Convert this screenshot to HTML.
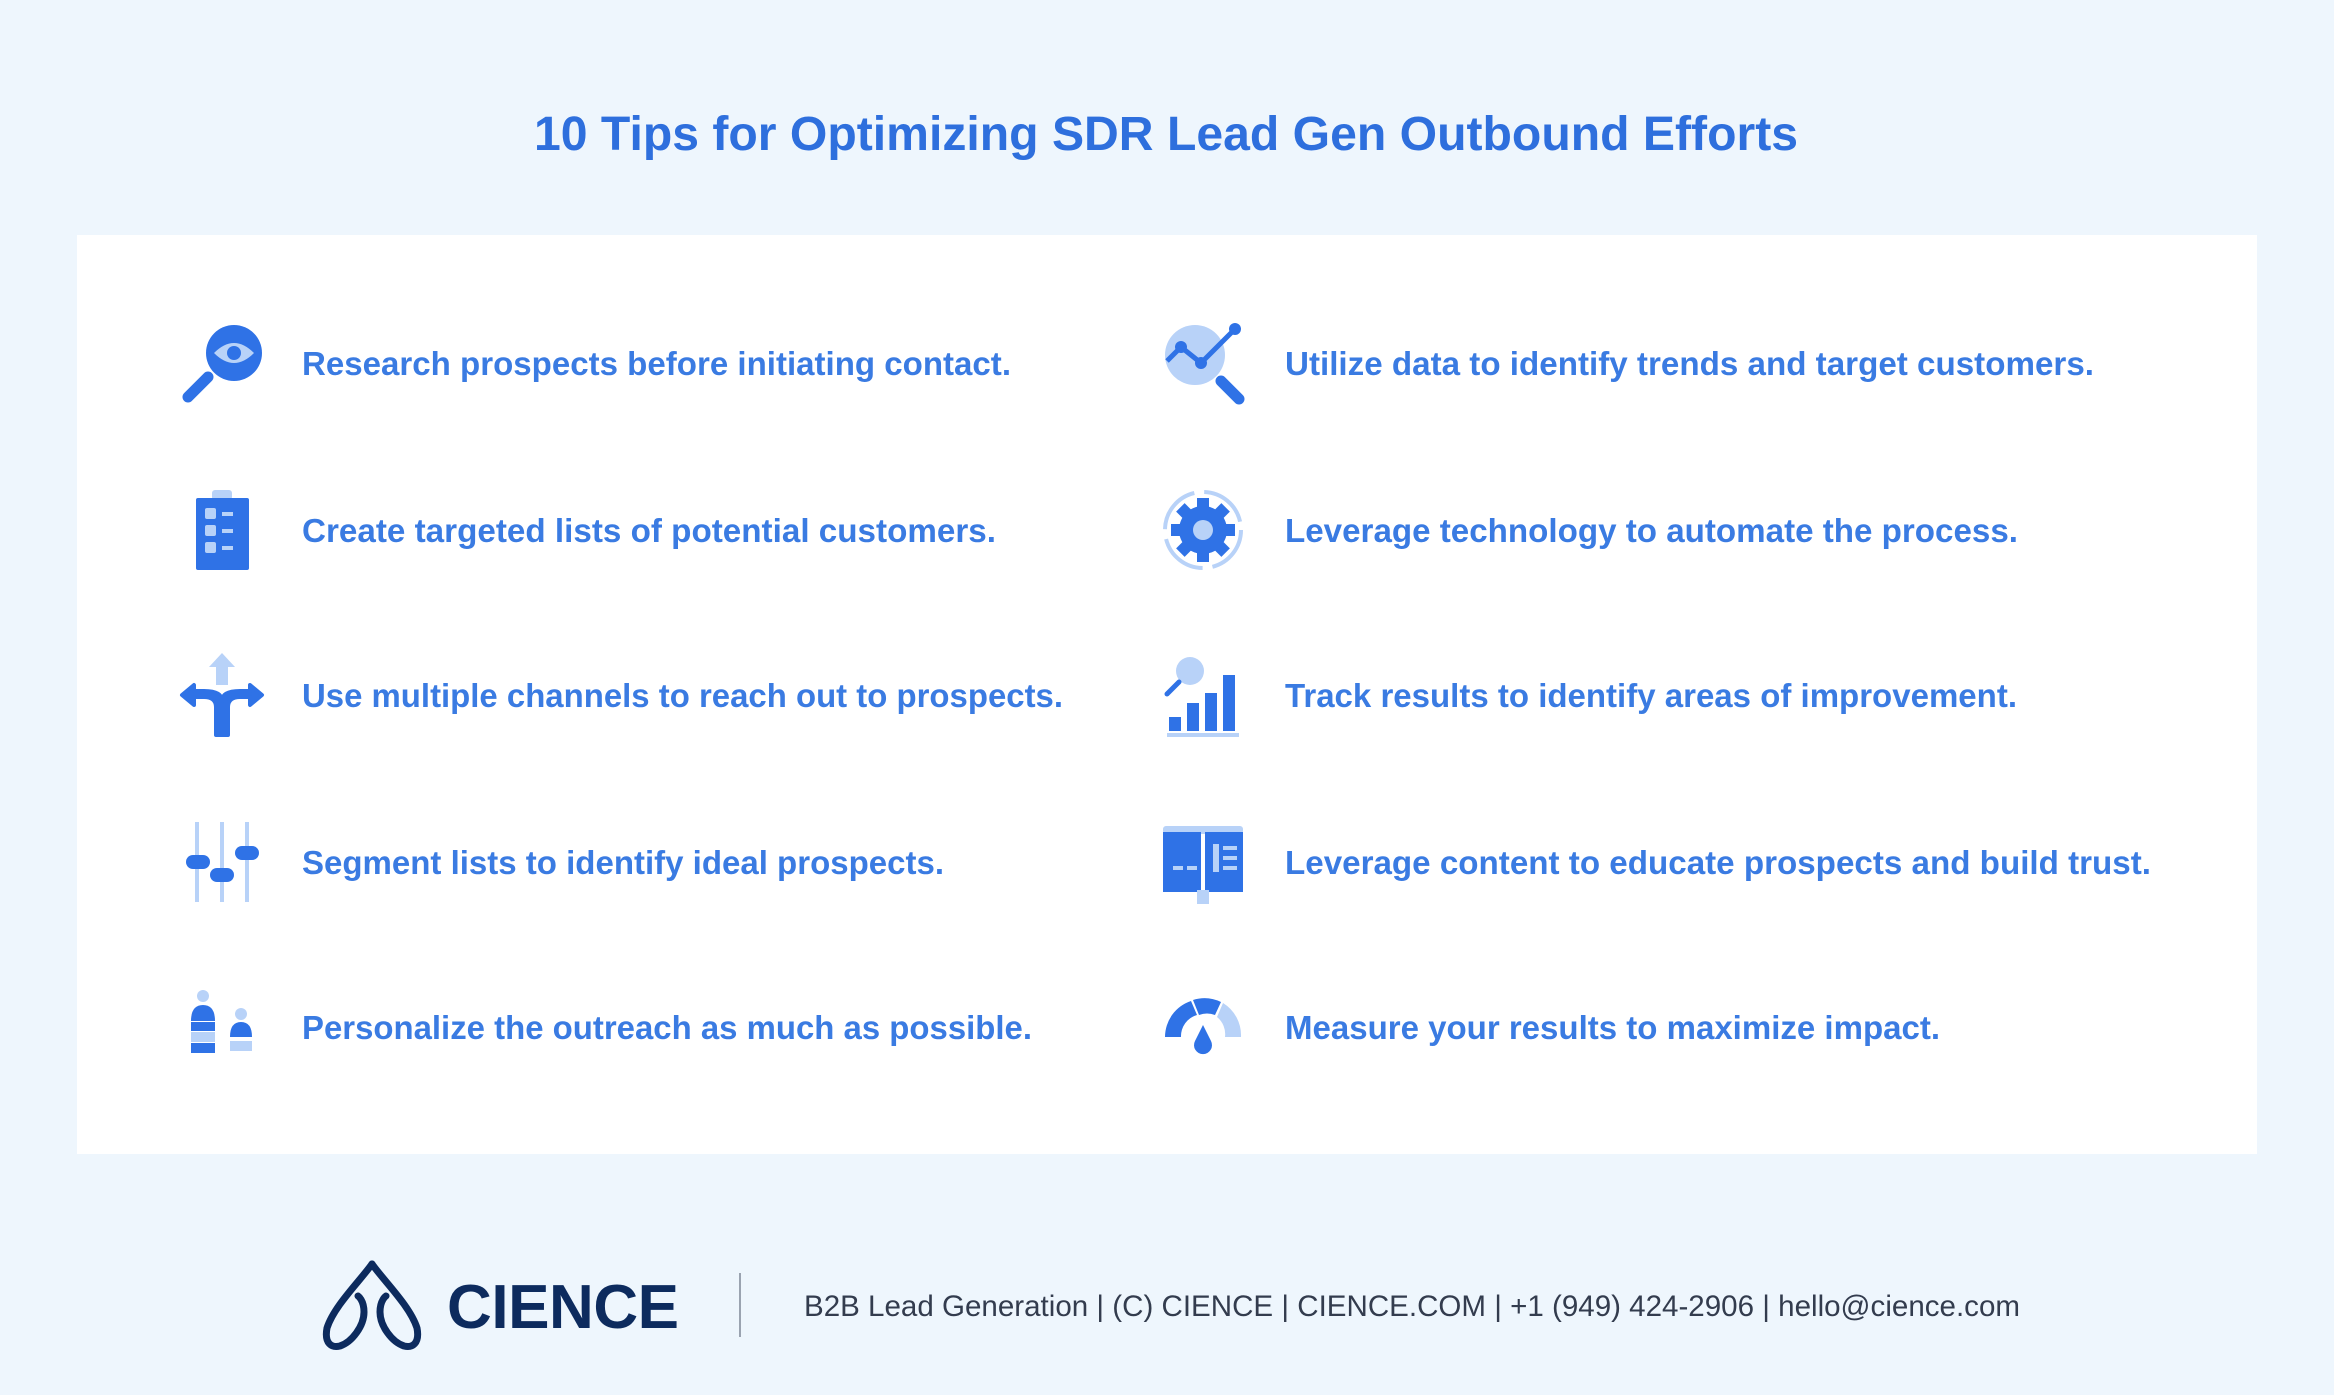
<!DOCTYPE html>
<html><head><meta charset="utf-8"><style>
html,body{margin:0;padding:0;background:#eef6fd;}
svg{display:block}
</style></head><body>
<svg width="2334" height="1395" viewBox="0 0 2334 1395" xmlns="http://www.w3.org/2000/svg" font-family="'Liberation Sans', sans-serif">
<rect width="2334" height="1395" fill="#eef6fd"/>
<text x="534" y="150" font-size="48" font-weight="bold" fill="#2e6fdd" textLength="1264" lengthAdjust="spacingAndGlyphs">10 Tips for Optimizing SDR Lead Gen Outbound Efforts</text>
<rect x="77" y="235" width="2180" height="919" fill="#ffffff"/>

<g font-size="33" font-weight="bold" fill="#3a7be2" lengthAdjust="spacingAndGlyphs">
<text x="302" y="375" textLength="709" lengthAdjust="spacingAndGlyphs">Research prospects before initiating contact.</text>
<text x="302" y="542" textLength="694" lengthAdjust="spacingAndGlyphs">Create targeted lists of potential customers.</text>
<text x="302" y="707" textLength="761" lengthAdjust="spacingAndGlyphs">Use multiple channels to reach out to prospects.</text>
<text x="302" y="874" textLength="642" lengthAdjust="spacingAndGlyphs">Segment lists to identify ideal prospects.</text>
<text x="302" y="1039" textLength="730" lengthAdjust="spacingAndGlyphs">Personalize the outreach as much as possible.</text>
<text x="1285" y="375" textLength="809" lengthAdjust="spacingAndGlyphs">Utilize data to identify trends and target customers.</text>
<text x="1285" y="542" textLength="733" lengthAdjust="spacingAndGlyphs">Leverage technology to automate the process.</text>
<text x="1285" y="707" textLength="732" lengthAdjust="spacingAndGlyphs">Track results to identify areas of improvement.</text>
<text x="1285" y="874" textLength="866" lengthAdjust="spacingAndGlyphs">Leverage content to educate prospects and build trust.</text>
<text x="1285" y="1039" textLength="655" lengthAdjust="spacingAndGlyphs">Measure your results to maximize impact.</text>
</g>

<!-- Icon 1: magnifier eye -->
<g transform="translate(222,363)">
<line x1="-14" y1="14" x2="-34" y2="34" stroke="#2f72e6" stroke-width="11" stroke-linecap="round"/>
<circle cx="12" cy="-10" r="28" fill="#2f72e6"/>
<path d="M-8,-10 Q12,-30 32,-10 Q12,10 -8,-10Z" fill="#b8d2f8"/>
<circle cx="12" cy="-10" r="7" fill="#2f72e6"/>
</g>
<!-- Icon 2: clipboard -->
<g transform="translate(222,530)">
<rect x="-10" y="-40" width="20" height="10" rx="3" fill="#b8d2f8"/>
<rect x="-26" y="-32" width="53" height="72" rx="2" fill="#2f72e6"/>
<rect x="-17" y="-22" width="11" height="11" rx="2" fill="#b8d2f8"/>
<rect x="-17" y="-5" width="11" height="11" rx="2" fill="#b8d2f8"/>
<rect x="-17" y="12" width="11" height="11" rx="2" fill="#b8d2f8"/>
<rect x="0" y="-18" width="11" height="4" fill="#b8d2f8"/>
<rect x="0" y="-1" width="11" height="4" fill="#b8d2f8"/>
<rect x="0" y="16" width="11" height="4" fill="#b8d2f8"/>
</g>
<!-- Icon 3: arrows -->
<g transform="translate(222,695)">
<path d="M-6,-10 L-6,-28 L-13,-28 L0,-42 L13,-28 L6,-28 L6,-10Z" fill="#b8d2f8"/>
<path d="M-6,40 L-6,12 Q-6,2 -18,2 L-28,2 L-28,10 L-40,0 L-28,-10 L-28,-4 L-18,-4 Q0,-4 0,6 Q0,-4 18,-4 L28,-4 L28,-10 L40,0 L28,10 L28,2 L18,2 Q6,2 6,12 L6,40Z" fill="#2f72e6" stroke="#2f72e6" stroke-width="4" stroke-linejoin="round"/>
</g>
<!-- Icon 4: sliders -->
<g transform="translate(222,862)">
<line x1="-25" y1="-40" x2="-25" y2="40" stroke="#b8d2f8" stroke-width="4"/>
<line x1="0" y1="-40" x2="0" y2="40" stroke="#b8d2f8" stroke-width="4"/>
<line x1="25" y1="-40" x2="25" y2="40" stroke="#b8d2f8" stroke-width="4"/>
<rect x="-36" y="-7" width="24" height="14" rx="7" fill="#2f72e6"/>
<rect x="-12" y="6" width="24" height="14" rx="7" fill="#2f72e6"/>
<rect x="13" y="-16" width="24" height="14" rx="7" fill="#2f72e6"/>
</g>
<!-- Icon 5: people -->
<g transform="translate(222,1027)">
<circle cx="-19" cy="-31" r="6" fill="#b8d2f8"/>
<path d="M-31,-6 Q-31,-22 -19,-22 Q-7,-22 -7,-6Z" fill="#2f72e6"/>
<rect x="-31" y="-5" width="24" height="9" fill="#2f72e6"/>
<rect x="-31" y="5" width="24" height="10" fill="#b8d2f8"/>
<rect x="-31" y="16" width="24" height="10" fill="#2f72e6"/>
<circle cx="19" cy="-13" r="6" fill="#b8d2f8"/>
<path d="M8,10 Q8,-5 19,-5 Q30,-5 30,10Z" fill="#2f72e6"/>
<rect x="8" y="14" width="22" height="10" fill="#b8d2f8"/>
</g>

<!-- Right icon 1: chart magnifier -->
<g transform="translate(1203,363)">
<circle cx="-8" cy="-8" r="30" fill="#b8d2f8"/>
<polyline points="-36,-2 -22,-16 -2,0 32,-34" fill="none" stroke="#2f72e6" stroke-width="5" stroke-linejoin="round"/>
<circle cx="-22" cy="-16" r="6" fill="#2f72e6"/>
<circle cx="-2" cy="0" r="6" fill="#2f72e6"/>
<circle cx="32" cy="-34" r="6" fill="#2f72e6"/>
<line x1="18" y1="18" x2="36" y2="36" stroke="#2f72e6" stroke-width="11" stroke-linecap="round"/>
</g>
<!-- Right icon 2: gear -->
<g transform="translate(1203,530)">
<circle r="38" fill="none" stroke="#b8d2f8" stroke-width="4" stroke-dasharray="50 10"/>
<g fill="#2f72e6">
<rect x="-6" y="-32" width="12" height="64"/>
<rect x="-6" y="-32" width="12" height="64" transform="rotate(45)"/>
<rect x="-6" y="-32" width="12" height="64" transform="rotate(90)"/>
<rect x="-6" y="-32" width="12" height="64" transform="rotate(135)"/>
<circle r="24"/>
</g>
<circle r="10" fill="#b8d2f8"/>
</g>
<!-- Right icon 3: bar chart -->
<g transform="translate(1203,695)">
<circle cx="-13" cy="-24" r="14" fill="#b8d2f8"/>
<line x1="-24" y1="-13" x2="-36" y2="-1" stroke="#2f72e6" stroke-width="5" stroke-linecap="round"/>
<rect x="-34" y="22" width="12" height="14" fill="#2f72e6"/>
<rect x="-16" y="8" width="12" height="28" fill="#2f72e6"/>
<rect x="2" y="-2" width="12" height="38" fill="#2f72e6"/>
<rect x="20" y="-20" width="12" height="56" fill="#2f72e6"/>
<rect x="-36" y="38" width="72" height="4" fill="#b8d2f8"/>
</g>
<!-- Right icon 4: book -->
<g transform="translate(1203,862)">
<rect x="-40" y="-36" width="80" height="8" rx="3" fill="#b8d2f8"/>
<rect x="-40" y="-30" width="38" height="60" fill="#2f72e6"/>
<rect x="2" y="-30" width="38" height="60" fill="#2f72e6"/>
<rect x="-6" y="28" width="12" height="14" fill="#b8d2f8"/>
<rect x="-30" y="4" width="10" height="4" fill="#b8d2f8"/>
<rect x="-16" y="4" width="10" height="4" fill="#b8d2f8"/>
<rect x="10" y="-18" width="6" height="28" fill="#b8d2f8"/>
<rect x="20" y="-16" width="14" height="4" fill="#b8d2f8"/>
<rect x="20" y="-6" width="14" height="4" fill="#b8d2f8"/>
<rect x="20" y="4" width="14" height="4" fill="#b8d2f8"/>
</g>
<!-- Right icon 5: gauge -->
<g transform="translate(1203,1027)">
<path d="M-38,10 A38,38 0 0 1 -12,-26 L-6,-12 A22,22 0 0 0 -22,10Z" fill="#2f72e6"/>
<path d="M-10,-27 A38,38 0 0 1 18,-25 L12,-12 A22,22 0 0 0 -4,-12Z" fill="#2f72e6"/>
<path d="M20,-24 A38,38 0 0 1 38,10 L22,10 A22,22 0 0 0 14,-10Z" fill="#b8d2f8"/>
<path d="M0,-2 L8,14 A9,9 0 1 1 -8,14Z" fill="#2f72e6"/>
</g>

<!-- Footer -->
<g transform="translate(372,1306)">
<path d="M0,-42 C-12,-25 -38,0 -45,22 C-48,38 -40,42 -32,40 C-20,36 -8,20 -8,6 C-8,-6 -14,-10 -14,-10" fill="none" stroke="#0d2b5e" stroke-width="7" stroke-linecap="round"/>
<path d="M0,-42 C12,-25 38,0 45,22 C48,38 40,42 32,40 C20,36 8,20 8,6 C8,-6 14,-10 14,-10" fill="none" stroke="#0d2b5e" stroke-width="7" stroke-linecap="round"/>
</g>
<text x="447" y="1328" font-size="62" font-weight="bold" fill="#0d2b5e" textLength="232" lengthAdjust="spacing">CIENCE</text>
<rect x="739" y="1273" width="2" height="64" fill="#9aa3b0"/>
<text x="804" y="1316" font-size="30" fill="#333c4e" textLength="1216" lengthAdjust="spacingAndGlyphs">B2B Lead Generation | (C) CIENCE | CIENCE.COM | +1 (949) 424-2906 | hello@cience.com</text>
</svg>
</body></html>
